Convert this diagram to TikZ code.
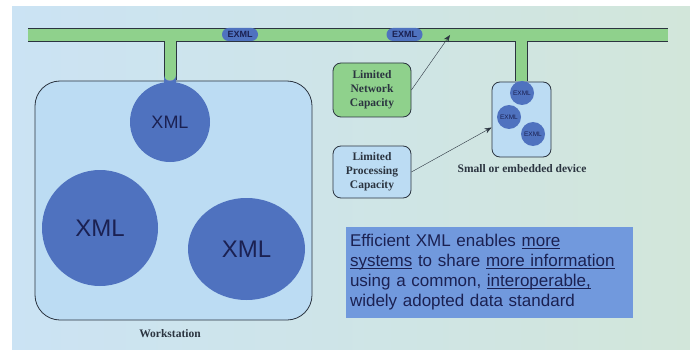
\documentclass[tikz,border=0pt]{standalone}
\usepackage{fontspec}
\setmainfont{Liberation Serif}
\setsansfont{Liberation Sans}
\usetikzlibrary{arrows.meta,shapes.geometric}

\definecolor{bgleft}{HTML}{CBE3F4}
\definecolor{bgmid}{HTML}{E0F0F9}
\definecolor{bgright}{HTML}{D2E6DA}
\definecolor{busgreen}{HTML}{8FD18C}
\definecolor{xmlblue}{HTML}{4F72BF}
\definecolor{hostblue}{HTML}{BCDCF3}
\definecolor{navy}{HTML}{1B2152}
\definecolor{infoblue}{HTML}{7199DD}
\definecolor{edgegray}{HTML}{2B3440}

\newcommand{\ulword}[1]{\underline{\smash{#1}}}

\begin{document}
\begin{tikzpicture}[x=1pt,y=-1pt]
    \tikzstyle{host}=[draw=edgegray, thick, fill=hostblue, rectangle]
    \tikzstyle{xmlball}=[circle, fill=xmlblue, text=navy, font=\sffamily, inner sep=0pt]
    \tikzstyle{packet}=[rectangle, rounded corners=6.5pt, fill=xmlblue, text=navy, font=\sffamily\bfseries\fontsize{9}{10}\selectfont, minimum width=36pt, minimum height=13pt, inner sep=0pt]
    \tikzstyle{note}=[draw=edgegray, thick, rectangle, rounded corners=8pt, minimum width=78pt, align=center, font=\bfseries\fontsize{11.5}{14}\selectfont, text=edgegray]
    \tikzstyle{hostlabel}=[font=\bfseries\fontsize{11.5}{13}\selectfont, text=edgegray]
    % background
    \fill[white] (0,0) rectangle (690,350);
    \shade[left color=bgleft, middle color=bgmid, right color=bgright] (12,7) rectangle (690,350);
    % hosts
    \node[host, minimum width=277pt, minimum height=239pt, rounded corners=25pt] (ws) at (173.5,200.5) {};
    \node[host, minimum width=59pt, minimum height=75pt, rounded corners=8pt] (dev) at (521.5,119.5) {};
    \node[hostlabel] (wslabel) at (170,334) {Workstation};
    \node[hostlabel] (devlabel) at (522,169) {Small or embedded device};
    % network bus with drops
    \node[rectangle, fill=busgreen, minimum width=640pt, minimum height=13pt, inner sep=0pt] (bus) at (348,34.5) {};
    \fill[busgreen] (164,41) rectangle (176,80);
    \fill[busgreen] (515,41) rectangle (527,81);
    \draw[edgegray, thick] (28,41) -- (164,41) -- (164,80);
    \draw[edgegray, thick] (176,80) -- (176,41) -- (515,41) -- (515,81);
    \draw[edgegray, thick] (527,81) -- (527,41) -- (668,41);
    \draw[edgegray, thick] (28,28) -- (668,28);
    \fill[xmlblue] (164,86) -- (164,75) arc[start angle=180, end angle=0, radius=6] -- (176,86) -- cycle;
    \fill[xmlblue] (515,90) -- (515,81) arc[start angle=180, end angle=0, radius=6] -- (527,90) -- cycle;
    \node[packet] (p1) at (240,34.5) {EXML};
    \node[packet] (p2) at (404.5,34.5) {EXML};
    % XML documents
    \node[xmlball, minimum size=80pt, font=\sffamily\fontsize{18}{20}\selectfont] (x1) at (170,122) {XML};
    \node[xmlball, minimum size=116pt, font=\sffamily\fontsize{24}{26}\selectfont] (x2) at (100,228) {XML};
    \node[xmlball, ellipse, minimum width=117pt, minimum height=102pt, font=\sffamily\fontsize{24}{26}\selectfont] (x3) at (246.5,249) {XML};
    \node[xmlball, minimum size=24pt, font=\sffamily\fontsize{6.5}{7}\selectfont] (e1) at (522,93) {EXML};
    \node[xmlball, minimum size=24pt, font=\sffamily\fontsize{6.5}{7}\selectfont] (e2) at (509,117) {EXML};
    \node[xmlball, minimum size=24pt, font=\sffamily\fontsize{6.5}{7}\selectfont] (e3) at (533,134) {EXML};
    % limits
    \node[note, fill=busgreen, minimum height=54pt] (net) at (372,90) {Limited\\Network\\Capacity};
    \node[note, fill=hostblue, minimum height=52pt] (cpu) at (372,172) {Limited\\Processing\\Capacity};
    \coordinate (tap) at (450,35);
    \draw[-{Stealth[length=7pt]}, edgegray] (net.east) -- (tap);
    \draw[-{Stealth[length=7pt]}, edgegray] (cpu.east) -- ([yshift=-8pt]dev.west);
    % message
    \node[rectangle, fill=infoblue, text=navy, minimum height=91pt, text width=279pt, inner xsep=4pt, align=left, font=\sffamily\fontsize{17}{20}\selectfont] (info) at (489.5,272.5)
        {Efficient XML enables \ulword{more}\\\ulword{systems} to share \ulword{more information}\\using a common, \ulword{interoperable,}\\widely adopted data standard};
\end{tikzpicture}
\end{document}
